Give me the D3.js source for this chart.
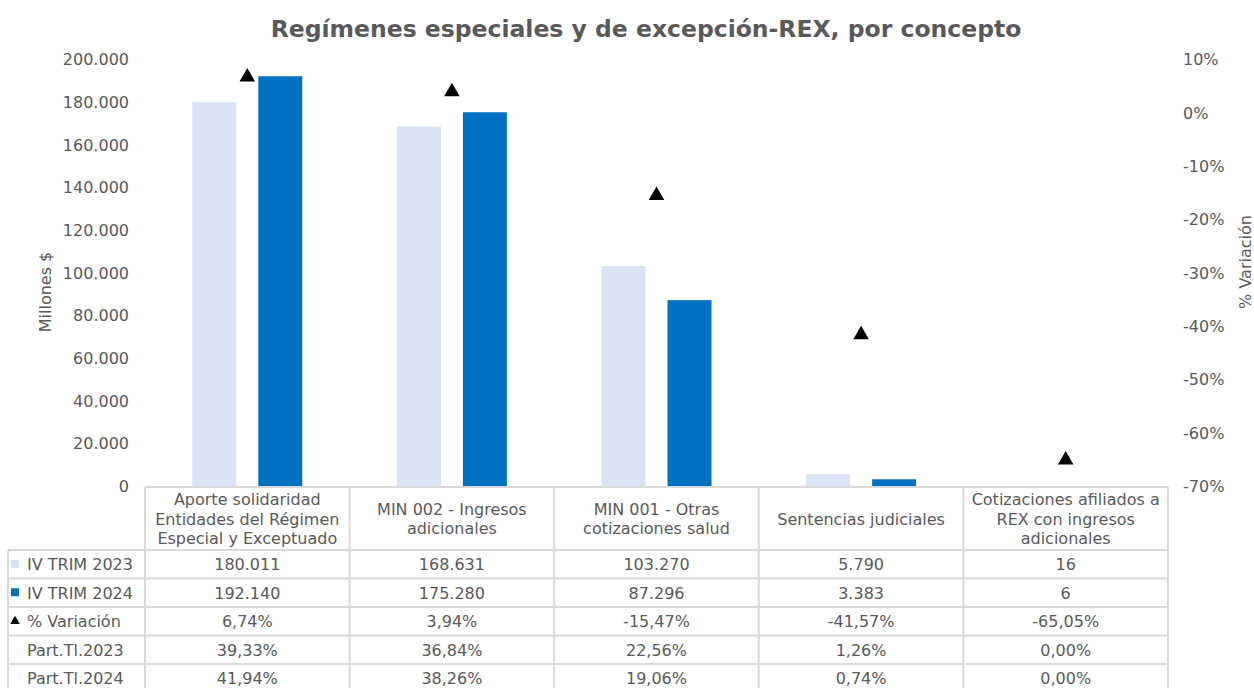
<!DOCTYPE html>
<html>
<head>
<meta charset="utf-8">
<script src="https://cdn.jsdelivr.net/npm/d3@7"></script>
<style>
  html, body { margin: 0; padding: 0; background: #ffffff; }
  svg { display: block; font-family: "DejaVu Sans", Verdana, sans-serif; }
</style>
</head>
<body>
<svg id="chart" width="1254" height="688"></svg>
<script>
// Concept labels (line breaks as shown in the table header)
const categories = [
  "Aporte solidaridad\nEntidades del Régimen\nEspecial y Exceptuado",
  "MIN 002 - Ingresos\nadicionales",
  "MIN 001 - Otras\ncotizaciones salud",
  "Sentencias judiciales",
  "Cotizaciones afiliados a\nREX con ingresos\nadicionales"
];
const seriesNames = ["IV TRIM 2023", "IV TRIM 2024"];
const trim2023 = [180011, 168631, 103270, 5790, 16];
const trim2024 = [192140, 175280, 87296, 3383, 6];
const variacion = [6.74, 3.94, -15.47, -41.57, -65.05];   // %
const part2023 = [39.33, 36.84, 22.56, 1.26, 0.00];       // %
const part2024 = [41.94, 38.26, 19.06, 0.74, 0.00];       // %
const leftTicks = [0, 20000, 40000, 60000, 80000, 100000, 120000, 140000, 160000, 180000, 200000];
const rightTicks = [10, 0, -10, -20, -30, -40, -50, -60, -70];

const colors = { y2023: "#DAE3F3", y2024: "#0070C0", tri: "#000000",
                 text: "#595959", grid: "#D9D9D9" };
const FS = 16;

const loc = d3.formatLocale({ decimal: ",", thousands: ".", grouping: [3],
                              currency: ["$", ""], minus: "-" });
const fmtInt = loc.format(",.0f");
const fmtPct = v => loc.format(".2f")(v) + "%";

const svg = d3.select("#chart");
const plot = { left: 145, right: 1168, top: 59.5, bottom: 486.5 };

const x = d3.scaleBand().domain(d3.range(categories.length))
  .range([plot.left, plot.right]).padding(0);
const xs = d3.scaleBand().domain([0, 1]).range([0, 110]).paddingInner(1 / 3).paddingOuter(0);
const y = d3.scaleLinear().domain([0, 200000]).range([plot.bottom, plot.top]);
const y2 = d3.scaleLinear().domain([-70, 10]).range([plot.bottom, plot.top]);

// Title
svg.append("text")
  .attr("x", 646).attr("y", 37)
  .attr("text-anchor", "middle")
  .attr("font-size", 23.5).attr("font-weight", "bold")
  .attr("fill", colors.text)
  .text("Regímenes especiales y de excepción-REX, por concepto");

// Left axis
const leftAxis = d3.axisLeft(y).tickValues(leftTicks).tickSize(0).tickPadding(0)
  .tickFormat(d => fmtInt(d));
const gl = svg.append("g").attr("transform", `translate(129,0)`).call(leftAxis);
gl.select(".domain").remove();
gl.selectAll("text").attr("font-size", FS).attr("fill", colors.text)
  .attr("font-family", "DejaVu Sans, Verdana, sans-serif");

// Right axis
const rightAxis = d3.axisRight(y2).tickValues(rightTicks).tickSize(0).tickPadding(0)
  .tickFormat(d => d + "%");
const gr = svg.append("g").attr("transform", `translate(1183,0)`).call(rightAxis);
gr.select(".domain").remove();
gr.selectAll("text").attr("font-size", FS).attr("fill", colors.text)
  .attr("font-family", "DejaVu Sans, Verdana, sans-serif");

// Axis titles
svg.append("text")
  .attr("transform", "translate(51,292) rotate(-90)")
  .attr("text-anchor", "middle").attr("font-size", FS).attr("fill", colors.text)
  .text("Millones $");
svg.append("text")
  .attr("transform", "translate(1251,262) rotate(-90)")
  .attr("text-anchor", "middle").attr("font-size", FS).attr("fill", colors.text)
  .text("% Variación");

// Bars
const barData = [];
categories.forEach((c, i) => {
  barData.push({ i, s: 0, v: trim2023[i] });
  barData.push({ i, s: 1, v: trim2024[i] });
});
const catOffset = (x.bandwidth() - 110) / 2;
svg.append("g").selectAll("rect").data(barData).join("rect")
  .attr("x", d => x(d.i) + catOffset + xs(d.s))
  .attr("width", xs.bandwidth())
  .attr("y", d => y(d.v))
  .attr("height", d => plot.bottom - y(d.v))
  .attr("fill", d => d.s === 0 ? colors.y2023 : colors.y2024);

// Variation markers
const tri = d3.symbol().type(d3.symbolTriangle).size(105);
svg.append("g").selectAll("path").data(variacion).join("path")
  .attr("d", tri)
  .attr("transform", (d, i) => `translate(${x(i) + x.bandwidth() / 2},${y2(d)})`)
  .attr("fill", colors.tri);

// Data table
const headerTop = 487, headerBottom = 550, rowH = 28.5;
const tableLeft = 8;
const rows = [
  { label: seriesNames[0], key: "sq", color: colors.y2023, vals: trim2023.map(fmtInt) },
  { label: seriesNames[1], key: "sq", color: colors.y2024, vals: trim2024.map(fmtInt) },
  { label: "% Variación", key: "tri", color: colors.tri, vals: variacion.map(fmtPct) },
  { label: "Part.Tl.2023", key: null, vals: part2023.map(fmtPct) },
  { label: "Part.Tl.2024", key: null, vals: part2024.map(fmtPct) }
];
const tbl = svg.append("g");
const lineStyle = s => s.attr("stroke", colors.grid).attr("stroke-width", 2).attr("fill", "none");

// Header cells
categories.forEach((c, i) => {
  const x0 = x(i), w = x.bandwidth();
  const lines = c.split("\n");
  const lh = 19.5;
  const cy = (headerTop + headerBottom) / 2;
  const t = tbl.append("text").attr("text-anchor", "middle")
    .attr("font-size", FS).attr("fill", colors.text);
  lines.forEach((ln, k) => {
    t.append("tspan").attr("x", x0 + w / 2)
      .attr("y", cy + (k - (lines.length - 1) / 2) * lh + 6)
      .text(ln);
  });
});

// Grid lines of the table
const tableBottom = headerBottom + rowH * rows.length;
tbl.append("line").attr("x1", plot.left).attr("x2", plot.right)
  .attr("y1", headerTop).attr("y2", headerTop).call(lineStyle);
d3.range(rows.length + 1).forEach(r => {
  const yy = headerBottom + r * rowH;
  tbl.append("line").attr("x1", tableLeft).attr("x2", plot.right)
    .attr("y1", yy).attr("y2", yy).call(lineStyle);
});
d3.range(categories.length + 1).forEach(i => {
  const xx = i < categories.length ? x(i) : plot.right;
  tbl.append("line").attr("x1", xx).attr("x2", xx)
    .attr("y1", headerTop).attr("y2", tableBottom).call(lineStyle);
});
tbl.append("line").attr("x1", tableLeft).attr("x2", tableLeft)
  .attr("y1", headerBottom).attr("y2", tableBottom).call(lineStyle);

// Rows
rows.forEach((r, ri) => {
  const cy = headerBottom + ri * rowH + rowH / 2;
  if (r.key === "sq") {
    tbl.append("rect").attr("x", 11).attr("y", cy - 4.5).attr("width", 8).attr("height", 8)
      .attr("fill", r.color);
  } else if (r.key === "tri") {
    tbl.append("path").attr("d", d3.symbol().type(d3.symbolTriangle).size(40))
      .attr("transform", `translate(15,${cy})`).attr("fill", r.color);
  }
  tbl.append("text").attr("x", 27).attr("y", cy + 6)
    .attr("font-size", FS).attr("fill", colors.text).text(r.label);
  r.vals.forEach((v, i) => {
    tbl.append("text").attr("x", x(i) + x.bandwidth() / 2).attr("y", cy + 6)
      .attr("text-anchor", "middle").attr("font-size", FS).attr("fill", colors.text)
      .text(v);
  });
});
</script>
</body>
</html>
